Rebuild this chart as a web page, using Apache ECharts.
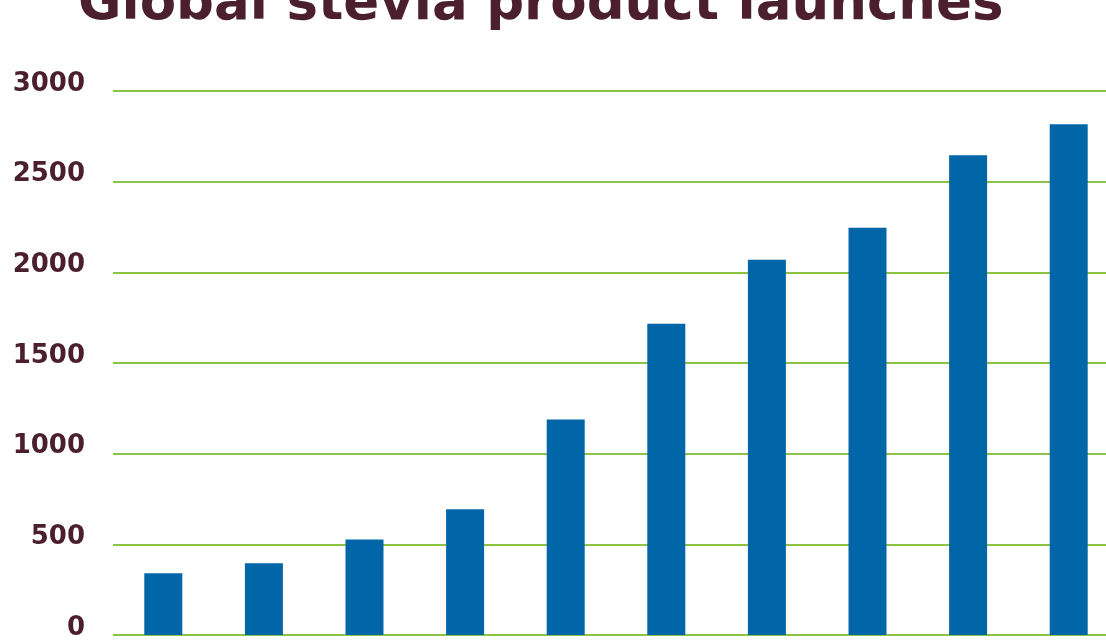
<!DOCTYPE html>
<html>
<head>
<meta charset="utf-8">
<script src="https://cdn.jsdelivr.net/npm/echarts@6/dist/echarts.min.js"></script>
<style>html,body{margin:0;padding:0;background:#fff}#c{width:1106px;height:643px}</style>
</head>
<body>
<div id="c"></div>
<script>
const titleText = 'Global stevia product launches';
const categories = ['1', '2', '3', '4', '5', '6', '7', '8', '9', '10'];
const launches = [340, 395, 527, 693, 1189, 1716, 2070, 2246, 2645, 2816];
const yTicks = [0, 500, 1000, 1500, 2000, 2500, 3000];

const chart = echarts.init(document.getElementById('c'));
chart.setOption({
  animation: false,
  title: {
    text: titleText,
    left: 78,
    top: -21,
    padding: 0,
    textStyle: { fontFamily: 'DejaVu Sans', fontWeight: 'bold', fontSize: 53, color: '#4b1f2e' }
  },
  grid: { left: 113, right: -13, top: 91, bottom: 8, containLabel: false, outerBoundsMode: 'none' },
  xAxis: {
    type: 'category',
    data: categories,
    axisLine: { show: false },
    axisTick: { show: false },
    axisLabel: { show: false }
  },
  yAxis: {
    type: 'value',
    min: yTicks[0],
    max: yTicks[yTicks.length - 1],
    interval: 500,
    axisLine: { show: false },
    axisTick: { show: false },
    axisLabel: {
      margin: 28,
      formatter: function (v) { return String(v); },
      fontFamily: 'DejaVu Sans',
      fontWeight: 'bold',
      fontSize: 26,
      color: '#4b1f2e',
      verticalAlign: 'bottom',
      lineHeight: 14
    },
    splitLine: { lineStyle: { color: '#8cc443', width: 2 } }
  },
  series: [{
    type: 'bar',
    data: launches,
    barWidth: 38,
    itemStyle: { color: '#0066a8' }
  }]
});
</script>
</body>
</html>
